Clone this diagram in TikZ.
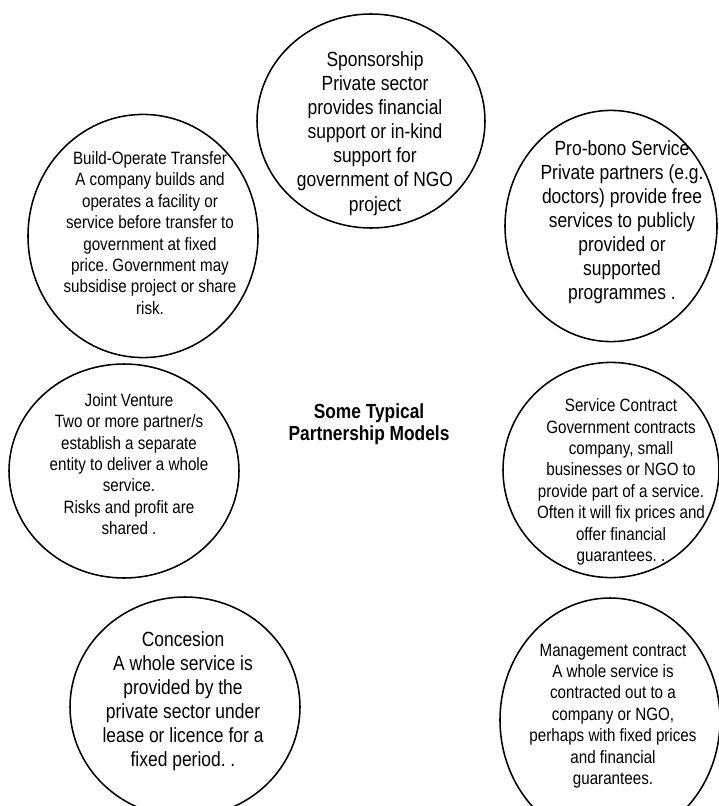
\documentclass[tikz,border=0pt]{standalone}
\usepackage{fontspec}
\setmainfont{Liberation Sans}[FakeStretch=0.85]
\usetikzlibrary{shapes.geometric}
\frenchspacing

\begin{document}
\begin{tikzpicture}[
  bubble/.style   = {draw, ellipse, line width=1.1pt, inner sep=0pt},
  bigtxt/.style   = {align=center, inner sep=0pt, font=\fontsize{14.6}{17.1}\selectfont},
  smalltxt/.style = {align=center, inner sep=0pt, font=\fontsize{12.7}{15.2}\selectfont},
  titletxt/.style = {align=center, inner sep=0pt, font=\bfseries\fontsize{14.5}{15.6}\selectfont},
]
\useasboundingbox (0, 0) rectangle (17.95, -20.15);

% ── Outlines ────────────────────────────────────────────────────────────────
\node[bubble, minimum width=5.70cm, minimum height=5.35cm] (spons)   at (9.275, -3.025)  {};
\node[bubble, minimum width=5.75cm, minimum height=6.08cm] (bot)     at (3.575, -5.90)   {};
\node[bubble, minimum width=5.30cm, minimum height=5.78cm] (probono) at (15.275, -5.65)  {};
\node[bubble, minimum width=5.75cm, minimum height=5.35cm] (jv)      at (3.10, -11.775)  {};
\node[bubble, minimum width=5.40cm, minimum height=5.38cm] (service) at (15.275, -11.75) {};
\node[bubble, minimum width=5.75cm, minimum height=5.50cm] (conc)    at (4.625, -17.675) {};
\node[bubble, minimum width=5.50cm, minimum height=6.10cm] (mgmt)    at (15.25, -18.00)  {};

% ── Texts ───────────────────────────────────────────────────────────────────
\node[titletxt] (title) at (9.225, -10.60) {Some Typical\\Partnership Models};

\node[bigtxt] (spons-t) at (9.375, -3.34)
  {Sponsorship\\Private sector\\provides financial\\support or in-kind\\support for\\government of NGO\\project};
\node[smalltxt] (bot-t) at (3.75, -5.825)
  {Build-Operate Transfer\\A company builds and\\operates a facility or\\service before transfer to\\government at fixed\\price. Government may\\subsidise project or share\\risk.};
\node[bigtxt] (probono-t) at (15.55, -5.55)
  {Pro-bono Service\\Private partners (e.g.\\doctors) provide free\\services to publicly\\provided or\\supported\\programmes .};
\node[smalltxt] (jv-t) at (3.225, -11.60)
  {Joint Venture\\Two or more partner/s\\establish a separate\\entity to deliver a whole\\service.\\Risks and profit are\\shared .};
\node[smalltxt] (service-t) at (15.525, -12.05)
  {Service Contract\\Government contracts\\company, small\\businesses or NGO to\\provide part of a service.\\Often it will fix prices and\\offer financial\\guarantees. .};
\node[bigtxt] (conc-t) at (4.575, -17.525)
  {Concesion\\A whole service is\\provided by the\\private sector under\\lease or licence for a\\fixed period. .};
\node[smalltxt] (mgmt-t) at (15.325, -17.90)
  {Management contract\\A whole service is\\contracted out to a\\company or NGO,\\perhaps with fixed prices\\and financial\\guarantees.};

\end{tikzpicture}
\end{document}
